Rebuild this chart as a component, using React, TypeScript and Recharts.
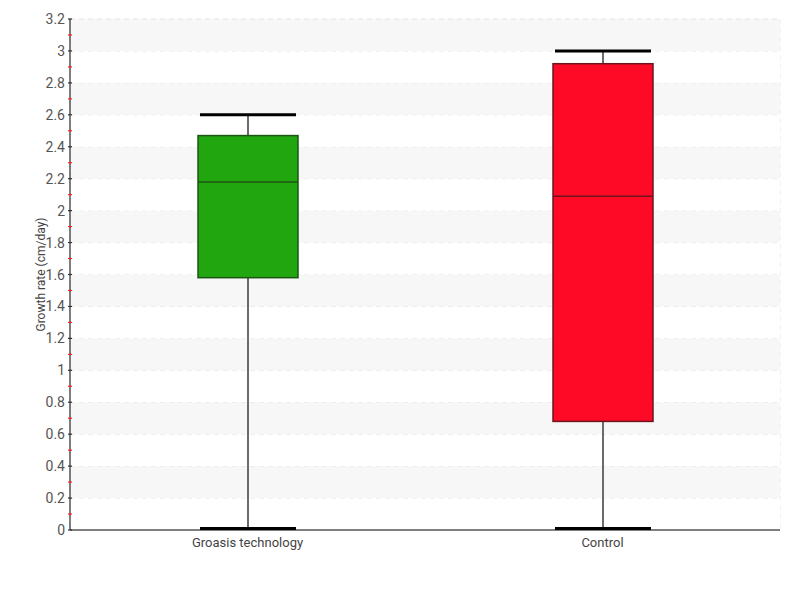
import { ComposedChart, Bar, XAxis, YAxis, CartesianGrid, Label, ReferenceArea } from 'recharts'

const categories = ['Groasis technology', 'Control']
const mins = [0, 0]
const q1s = [1.58, 0.68]
const medians = [2.18, 2.09]
const q3s = [2.47, 2.92]
const maxs = [2.6, 3.0]
const fills = ['#22a60f', '#ff0a26']
const strokes = ['#1d5614', '#6e1420']

const yTicks = [0, 0.1, 0.2, 0.3, 0.4, 0.5, 0.6, 0.7, 0.8, 0.9, 1, 1.1, 1.2, 1.3, 1.4, 1.5, 1.6, 1.7, 1.8, 1.9, 2, 2.1, 2.2, 2.3, 2.4, 2.5, 2.6, 2.7, 2.8, 2.9, 3, 3.1, 3.2]
const bandStarts = [0, 0.2, 0.4, 0.6, 0.8, 1, 1.2, 1.4, 1.6, 1.8, 2, 2.2, 2.4, 2.6, 2.8, 3]

const FONT = "Roboto, 'Liberation Sans', sans-serif"

const data = categories.map((name, i) => ({
  name, min: mins[i], q1: q1s[i], median: medians[i], q3: q3s[i], max: maxs[i], idx: i,
}))

const BandShape = (props: any) => {
  const { x, y, width, height, shaded } = props
  return (
    <g>
      <rect x={x} y={y} width={width} height={height} fill={shaded ? '#f7f7f7' : '#ffffff'} />
      <line x1={x} x2={x + width} y1={y} y2={y} stroke="#e4e4e4" strokeDasharray="5 4" />
    </g>
  )
}

const BoxShape = (props: any) => {
  const { x, y, width, height, payload } = props
  const d = payload
  const k = height / (d.q3 - d.q1)
  const cx = x + width / 2
  const medY = y + (d.q3 - d.median) * k
  const maxY = y - (d.max - d.q3) * k
  const minY = y + height + (d.q1 - d.min) * k
  const capW = width * 0.96
  return (
    <g>
      <line x1={cx} x2={cx} y1={maxY} y2={y} stroke="#6b6b6b" strokeWidth={2} />
      <line x1={cx} x2={cx} y1={y + height} y2={minY} stroke="#6b6b6b" strokeWidth={2} />
      <rect x={x} y={y} width={width} height={height} fill={fills[d.idx]} stroke={strokes[d.idx]} strokeWidth={1.5} />
      <line x1={x} x2={x + width} y1={medY} y2={medY} stroke={strokes[d.idx]} strokeWidth={1.5} />
      <line x1={cx - capW / 2} x2={cx + capW / 2} y1={maxY} y2={maxY} stroke="#000" strokeWidth={3} />
      <line x1={cx - capW / 2} x2={cx + capW / 2} y1={minY - 1.5} y2={minY - 1.5} stroke="#000" strokeWidth={3} />
    </g>
  )
}

const YTick = (props: any) => {
  const { x, y, payload } = props
  const v = payload.value
  const major = Math.round(v * 10) % 2 === 0
  const ax = x + 6
  return (
    <g>
      <line x1={ax - 2} x2={ax + 2} y1={y} y2={y} stroke={major ? '#333' : '#ff2020'} strokeWidth={1.2} />
      {major && (
        <text x={x + 1} y={y} dy={5} textAnchor="end" fill="#555" fontSize={14} fontFamily={FONT}>
          {String(v)}
        </text>
      )}
    </g>
  )
}

export default function App() {
  return (
    <ComposedChart width={784} height={584} data={data} margin={{ top: 11, right: 12, bottom: 32, left: 0 }}>
      {bandStarts.map((b, i) => (
        <ReferenceArea key={'a' + b} y1={b} y2={b + 0.2} shape={<BandShape shaded={i % 2 === 1} />} />
      ))}
      <CartesianGrid horizontal={false} stroke="#e6e6e6" strokeDasharray="5 4" />
      <XAxis dataKey="name" axisLine={{ stroke: '#000' }} tickLine={false} tick={{ fill: '#444', fontSize: 13, fontFamily: FONT }} tickMargin={2} />
      <YAxis width={62} domain={[0, 3.2]} ticks={yTicks} interval={0} tickLine={false} tickSize={3} tickMargin={3} axisLine={{ stroke: '#000' }} tick={<YTick />}>
        <Label value="Growth rate (cm/day)" angle={-90} position="center" dx={2} fill="#444" fontSize={12} fontFamily={FONT} />
      </YAxis>
      <Bar dataKey={(d: any) => [d.q1, d.q3]} barSize={100} shape={<BoxShape />} isAnimationActive={false} />
    </ComposedChart>
  )
}
